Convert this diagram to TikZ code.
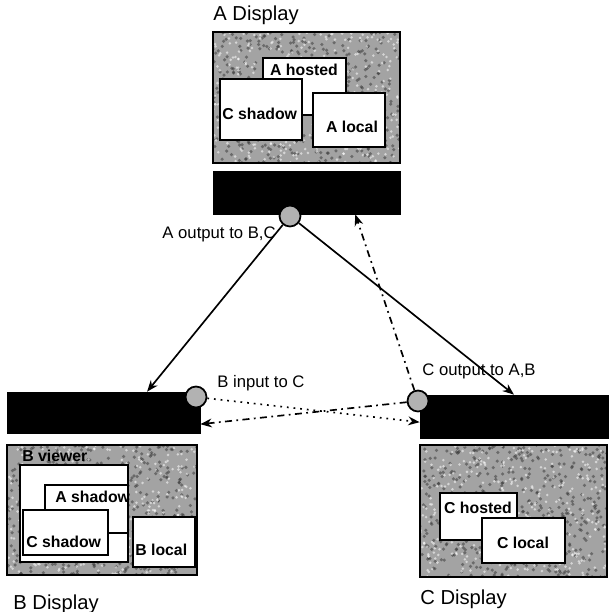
\documentclass[tikz,border=0pt]{standalone}
\usepackage{fontspec}
\setmainfont{Liberation Sans}
\usetikzlibrary{arrows.meta,calc}

% grainy desktop background inside a rectangle
\newcommand{\grain}[4]{%
  \begin{scope}
    \clip (#1,#2) rectangle (#3,#4);
    \foreach \k in {1,...,450}{
      \fill[black!80, opacity=0.5] ({#1+rnd*(#3-#1)},{#2+rnd*(#4-#2)}) circle (1pt);
    }
    \foreach \k in {1,...,350}{
      \fill[white, opacity=0.55] ({#1+rnd*(#3-#1)},{#2+rnd*(#4-#2)}) circle (0.8pt);
    }
  \end{scope}}

\tikzset{
  display/.style={fill=black!36},
  frame/.style={draw=black, line width=1.3pt},
  winbox/.style={draw=black, line width=1pt, fill=white},
  bar/.style={fill=black, draw=black, inner sep=0pt},
  port/.style={circle, draw=black, line width=1pt, fill=black!30, inner sep=0pt, minimum size=0.42cm},
  wlabel/.style={font=\bfseries\fontsize{9}{10}\selectfont, inner sep=0pt},
  lbl/.style={font=\fontsize{9.5}{11}\selectfont, inner sep=0pt},
  title/.style={font=\fontsize{11.5}{13}\selectfont, inner sep=0pt},
  flow/.style={line width=0.95pt, -{Stealth[length=6.5pt,width=5pt]}},
  ctrl/.style={flow, dash pattern=on 4pt off 2.5pt on 1pt off 2.5pt},
  feed/.style={flow, dash pattern=on 1pt off 2.8pt},
}

\begin{document}
\begin{tikzpicture}[x=0.02cm, y=-0.02cm]
  \useasboundingbox (0,0) rectangle (610,612);
  \pgfmathsetseed{7}

  % --- A display
  \node[title, anchor=west] (atitle) at (213,15) {A Display};
  \fill[display] (213,32) rectangle (400,163);
  \grain{213}{32}{400}{163}
  \draw[frame] (213,32) rectangle (400,163);
  \draw[winbox] (263,58) rectangle (346,115);
  \node[wlabel] (ahosted) at (304,70) {A hosted};
  \draw[winbox] (220,79) rectangle (302,140);
  \node[wlabel, anchor=west] (ashadowc) at (222,114) {C shadow};
  \draw[winbox] (313,93) rectangle (385,147);
  \node[wlabel] (alocal) at (352,127) {A local};
  \node[bar, minimum width=3.74cm, minimum height=0.86cm] (abar) at (306.5,192.5) {};

  % --- B display
  \node[bar, minimum width=3.86cm, minimum height=0.82cm] (bbar) at (103.5,412.5) {};
  \fill[display] (7,445) rectangle (197,575);
  \grain{7}{445}{197}{575}
  \draw[frame] (7,445) rectangle (197,575);
  \node[wlabel, anchor=west] (bviewer) at (22,456) {B viewer};
  \draw[winbox] (20,465) rectangle (128,562);
  \draw[winbox] (45,485) rectangle (128,533);
  \node[wlabel, anchor=west] (bshadowa) at (55,497) {A shadow};
  \draw[winbox] (23,510) rectangle (108,555);
  \node[wlabel, anchor=west] (bshadowc) at (26,542) {C shadow};
  \draw[winbox] (133,517) rectangle (195,567);
  \node[wlabel, anchor=west] (blocal) at (135,550) {B local};
  \node[title, anchor=west] (btitle) at (13,604) {B Display};

  % --- C display
  \node[bar, minimum width=3.76cm, minimum height=0.86cm] (cbar) at (514,416.5) {};
  \fill[display] (420,445) rectangle (607,577);
  \grain{420}{445}{607}{577}
  \draw[frame] (420,445) rectangle (607,577);
  \draw[winbox] (440,493) rectangle (517,540);
  \node[wlabel] (chosted) at (478,508) {C hosted};
  \draw[winbox] (482,518) rectangle (565,563);
  \node[wlabel] (clocal) at (523,543) {C local};
  \node[title, anchor=west] (ctitle) at (420,599) {C Display};

  % --- ports
  \node[port] (aout) at (290,216) {};
  \node[port] (bin) at (196,397) {};
  \node[port] (cout) at (418,401) {};

  % --- streams between displays
  \draw[flow] (aout) -- ($(bbar.north west)!0.725!(bbar.north east)$);
  \draw[flow] (aout) -- (cbar.north);
  \draw[ctrl] (cout) -- ($(abar.south west)!0.76!(abar.south east)$);
  \draw[ctrl] (cout) -- ($(bbar.south east)!0.22!(bbar.north east)$);
  \draw[feed] (bin) -- ($(cbar.south west)!0.37!(cbar.north west)$);

  % --- labels
  \node[lbl, anchor=east] (aoutlbl) at (276,234) {A output to B,C};
  \node[lbl, anchor=west] (binlbl) at (217,383) {B input to C};
  \node[lbl, anchor=west] (coutlbl) at (422,371) {C output to A,B};
\end{tikzpicture}
\end{document}
